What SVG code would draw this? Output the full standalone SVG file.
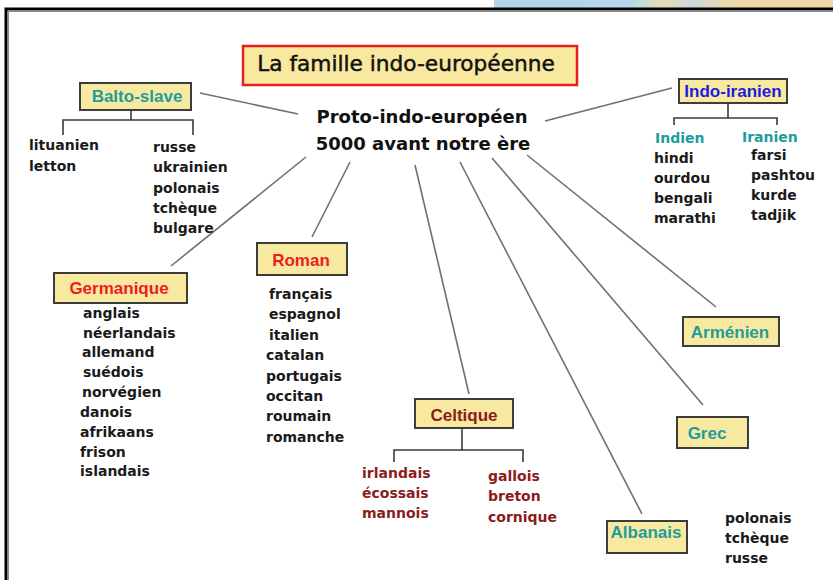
<svg xmlns="http://www.w3.org/2000/svg" width="833" height="580" viewBox="0 0 833 580">
<defs>
<linearGradient id="sky" x1="0" y1="0" x2="1" y2="0">
<stop offset="0" stop-color="#b2d5ec"/>
<stop offset="0.4" stop-color="#b5d6ea"/>
<stop offset="0.5" stop-color="#e6dcb8"/>
<stop offset="0.58" stop-color="#c9d9d8"/>
<stop offset="0.7" stop-color="#efd9aa"/>
<stop offset="1" stop-color="#efd8a8"/>
</linearGradient>
<style>
.box{fill:#f8e9a1;stroke:#3c3c3c;stroke-width:2}
.lbl{font-family:"Liberation Sans",Arial,sans-serif;font-weight:bold;font-size:17px;text-anchor:middle}
.li{font-family:"DejaVu Sans",Verdana,sans-serif;font-weight:bold;font-size:14px;fill:#1a1a1a}
.teal{fill:#1e9c9c}
.red{fill:#ee1c1c}
.blue{fill:#1c1ce0}
.dred{fill:#8b1c1c}
.con line{stroke:#707070;stroke-width:1.6}
.br{fill:none;stroke:#3a3a3a;stroke-width:1.6}
</style>
</defs>
<rect x="0" y="0" width="833" height="580" fill="#ffffff"/>
<rect x="494" y="0" width="339" height="8" fill="url(#sky)"/>
<path d="M6,580 V9 H833" fill="none" stroke="#000" stroke-width="3"/>
<path d="M8.5,580 V11.5 H833" fill="none" stroke="#8a8a8a" stroke-width="1"/>

<g id="connectors" class="con">
<line x1="200" y1="93" x2="298" y2="114"/>
<line x1="545" y1="121" x2="672" y2="88"/>
<line x1="306" y1="157" x2="171" y2="266"/>
<line x1="350" y1="162" x2="312" y2="237"/>
<line x1="415" y1="165" x2="469" y2="394"/>
<line x1="460" y1="162" x2="642" y2="514"/>
<line x1="492" y1="158" x2="703" y2="405"/>
<line x1="527" y1="155" x2="716" y2="307"/>
</g>

<g id="title">
<rect x="243" y="46" width="334" height="39" fill="#f8e8a0" stroke="#e81e1e" stroke-width="2.5"/>
<text x="406" y="71" font-family="DejaVu Sans,Verdana,sans-serif" font-size="21.7" text-anchor="middle" fill="#111" stroke="#111" stroke-width="0.45">La famille indo-européenne</text>
</g>

<g id="proto">
<text font-family="DejaVu Sans,Verdana,sans-serif" font-weight="bold" font-size="18" text-anchor="middle" fill="#111"><tspan x="422" y="123">Proto-indo-européen</tspan><tspan x="423" y="150">5000 avant notre ère</tspan></text>
</g>

<g id="balto-slave">
<rect class="box" x="80" y="83" width="111" height="27"/>
<text class="lbl teal" x="137" y="102">Balto-slave</text>
<path class="br" d="M131,110 V120 M63,135 V120 H193 V135"/>
<text class="li"><tspan x="29" y="150">lituanien</tspan><tspan x="29" y="171">letton</tspan></text>
<text class="li"><tspan x="153" y="152">russe</tspan><tspan x="153" y="172">ukrainien</tspan><tspan x="153" y="193">polonais</tspan><tspan x="153" y="213">tchèque</tspan><tspan x="153" y="233">bulgare</tspan></text>
</g>

<g id="indo-iranien">
<rect class="box" x="679" y="79" width="108" height="24"/>
<text class="lbl blue" x="733" y="97">Indo-iranien</text>
<path class="br" d="M728,103 V118 M674,125 V118 H777 V125"/>
<text class="li teal" x="655" y="143">Indien</text>
<text class="li teal" x="742" y="142">Iranien</text>
<text class="li"><tspan x="654" y="163">hindi</tspan><tspan x="654" y="183">ourdou</tspan><tspan x="654" y="203">bengali</tspan><tspan x="654" y="223">marathi</tspan></text>
<text class="li"><tspan x="751" y="160">farsi</tspan><tspan x="751" y="180">pashtou</tspan><tspan x="751" y="200">kurde</tspan><tspan x="751" y="220">tadjik</tspan></text>
</g>

<g id="germanique">
<rect class="box" x="54" y="273" width="133" height="30"/>
<text class="lbl red" x="119" y="294">Germanique</text>
<text class="li"><tspan x="83" y="318">anglais</tspan><tspan x="83" y="338">néerlandais</tspan><tspan x="82" y="357">allemand</tspan><tspan x="83" y="377">suédois</tspan><tspan x="82" y="397">norvégien</tspan><tspan x="80" y="417">danois</tspan><tspan x="80" y="437">afrikaans</tspan><tspan x="80" y="457">frison</tspan><tspan x="80" y="476">islandais</tspan></text>
</g>

<g id="roman">
<rect class="box" x="257" y="243" width="90" height="32"/>
<text class="lbl red" x="301" y="266">Roman</text>
<text class="li"><tspan x="269" y="299">français</tspan><tspan x="269" y="319">espagnol</tspan><tspan x="269" y="340">italien</tspan><tspan x="266" y="360">catalan</tspan><tspan x="266" y="381">portugais</tspan><tspan x="266" y="401">occitan</tspan><tspan x="266" y="421">roumain</tspan><tspan x="266" y="442">romanche</tspan></text>
</g>

<g id="celtique">
<rect class="box" x="415" y="399" width="98" height="29"/>
<text class="lbl dred" x="464" y="421">Celtique</text>
<path class="br" d="M462,428 V450 M394,462 V450 H523 V462"/>
<text class="li dred"><tspan x="362" y="478">irlandais</tspan><tspan x="362" y="498">écossais</tspan><tspan x="362" y="518">mannois</tspan></text>
<text class="li dred"><tspan x="488" y="481">gallois</tspan><tspan x="488" y="501">breton</tspan><tspan x="488" y="522">cornique</tspan></text>
</g>

<g id="albanais">
<rect class="box" x="607" y="521" width="80" height="32"/>
<text class="lbl teal" x="646" y="538">Albanais</text>
<text class="li"><tspan x="725" y="523">polonais</tspan><tspan x="725" y="543">tchèque</tspan><tspan x="725" y="563">russe</tspan></text>
</g>

<g id="grec">
<rect class="box" x="677" y="417" width="71" height="31"/>
<text class="lbl teal" x="707" y="439">Grec</text>
</g>

<g id="armenien">
<rect class="box" x="683" y="317" width="96" height="29"/>
<text class="lbl teal" x="730" y="338">Arménien</text>
</g>
</svg>
